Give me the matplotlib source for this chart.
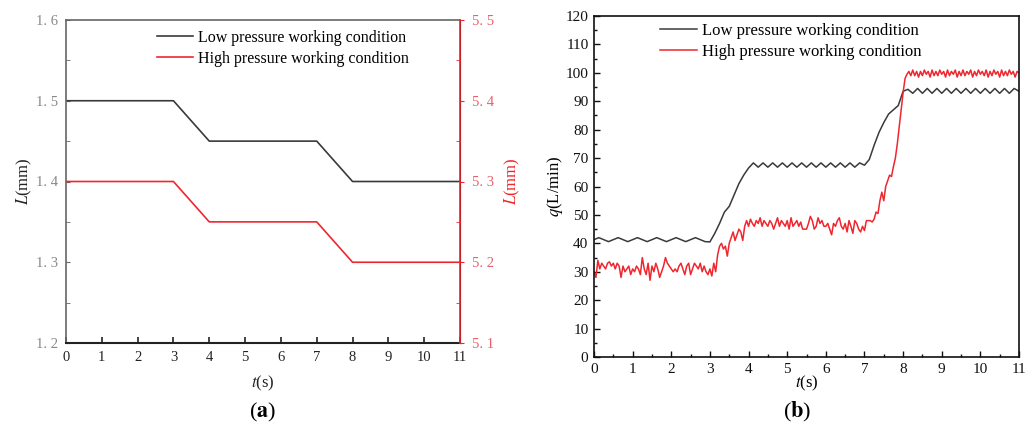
import numpy as np
import matplotlib
matplotlib.use('Agg')
import matplotlib.pyplot as plt
from matplotlib.ticker import MultipleLocator, FixedLocator, FixedFormatter

plt.rcParams['font.family'] = ['Liberation Serif', 'DejaVu Serif']
plt.rcParams['mathtext.fontset'] = 'stix'

# ---- panel (a): gap length vs time ----
a_t = [0, 3, 4, 7, 8, 11]
a_low = [1.50, 1.50, 1.45, 1.45, 1.40, 1.40]
a_high = [5.30, 5.30, 5.25, 5.25, 5.20, 5.20]
a_left_ticks = [1.2, 1.3, 1.4, 1.5, 1.6]
a_left_labels = ['1. 2', '1. 3', '1. 4', '1. 5', '1. 6']
a_right_ticks = [5.1, 5.2, 5.3, 5.4, 5.5]
a_right_labels = ['5. 1', '5. 2', '5. 3', '5. 4', '5. 5']
t_ticks = list(range(12))

# ---- panel (b): flow vs time ----
# low pressure, sampled every 0.125 s (8 values per second)
b_low = [
    41.3, 42.0, 41.3, 40.6, 41.3, 42.0, 41.3, 40.6,
    41.3, 42.0, 41.3, 40.6, 41.3, 42.0, 41.3, 40.6,
    41.3, 42.0, 41.3, 40.6, 41.3, 42.0, 41.3, 40.6,
    40.5, 43.5, 47.0, 51.0, 53.0, 57.0, 61.0, 64.0,
    66.5, 68.3, 66.8, 68.3, 66.8, 68.3, 66.8, 68.3,
    66.8, 68.3, 66.8, 68.3, 66.8, 68.3, 66.8, 68.3,
    66.8, 68.3, 66.8, 68.3, 66.8, 68.3, 66.8, 68.3,
    67.5, 69.5, 74.5, 79.0, 82.5, 85.5, 87.0, 88.5,
    93.5, 94.2, 92.8, 94.5, 92.8, 94.5, 92.8, 94.5,
    92.8, 94.5, 92.8, 94.5, 92.8, 94.5, 92.8, 94.5,
    92.8, 94.5, 92.8, 94.5, 92.8, 94.5, 92.8, 94.5,
    93.5,
]
# high pressure, sampled every 0.05 s (10 values per half second)
b_high = [
    30, 28, 34, 31, 33, 32, 31, 33, 33.5, 32,
    33, 31, 33, 32, 28, 32, 30, 31, 32, 29,
    31, 30, 32, 31, 29, 35, 31, 29, 33, 27,
    32, 30, 33, 31, 28, 30, 32, 35, 33, 32,
    31, 30, 31, 30, 32, 33, 31, 29, 32, 33,
    29, 31, 33, 32, 31, 33, 30, 32, 30, 29,
    31, 28.5, 33, 30, 36, 39, 40, 38, 39, 35.5,
    40, 42, 44, 41, 43, 45, 44, 41, 46, 48,
    46, 48.5, 47, 46, 48, 47, 49, 46, 48, 47,
    46, 48, 47, 45, 47, 49, 46, 48, 47, 46,
    48, 45, 49, 46, 47, 48, 46, 47.5, 45, 45,
    45, 47, 49.5, 48, 45, 46, 49, 47, 48, 46,
    46, 47, 45, 43, 47, 46, 48, 49, 46, 45,
    47, 44, 48, 46, 43.5, 48, 47, 45, 44, 46,
    44.5, 48, 48, 48, 47.5, 48.5, 51, 50.5, 55, 58,
    55, 60, 62, 64, 63.5, 67, 70, 75, 81, 87,
    93, 98, 99.5, 100.5, 99, 101, 99, 100.5, 98.5, 100.5,
    99, 101, 99.5, 100.5, 98.5, 101, 99, 100.5, 99, 101,
    99.5, 100.5, 98.5, 101, 99, 100.5, 99.5, 101, 98.5, 100.5,
    99, 101, 99, 100.5, 99.5, 101, 98.5, 100.5, 99, 101,
    99.5, 100.5, 99, 101, 98.5, 100.5, 99, 101, 99.5, 100.5,
    98.5, 101, 99, 100.5, 99, 101, 99.5, 100.5, 98.5, 100.5,
    100,
]
b_low_t = np.linspace(0, 11, len(b_low))
b_high_t = np.linspace(0, 11, len(b_high))

labels = ['Low pressure working condition', 'High pressure working condition']
c_low = '#3a3a3a'
c_high = '#f0262e'

fig = plt.figure(figsize=(10.32, 4.32), dpi=100)

# ---------------- (a) ----------------
ax = fig.add_axes([66/1032, 89/432, 394/1032, 323/432])
ax2 = ax.twinx()
l1, = ax.plot(a_t, a_low, color=c_low, lw=1.2)
l2, = ax2.plot(a_t, a_high, color=c_high, lw=1.2)
ax.set_xlim(0, 11)
ax.set_ylim(1.2, 1.6)
ax2.set_ylim(5.1, 5.5)
ax.xaxis.set_major_locator(FixedLocator(t_ticks))
ax.yaxis.set_major_locator(FixedLocator(a_left_ticks))
ax.yaxis.set_major_formatter(FixedFormatter(a_left_labels))
ax.yaxis.set_minor_locator(MultipleLocator(0.05))
ax2.yaxis.set_major_locator(FixedLocator(a_right_ticks))
ax2.yaxis.set_major_formatter(FixedFormatter(a_right_labels))
ax2.yaxis.set_minor_locator(MultipleLocator(0.05))
ax.tick_params(axis='x', direction='in', length=4, width=1.2, colors='#222222',
               labelsize=10.5, pad=6)
ax.tick_params(axis='y', which='both', direction='in', length=3, colors='#666666',
               labelcolor='#888888', labelsize=10.5, pad=6)
ax2.tick_params(axis='y', which='major', direction='out', length=3, colors=c_high,
                labelcolor='#e8606a', labelsize=10.5, pad=6)
ax2.tick_params(axis='y', which='minor', direction='in', length=3, colors=c_high)
for s in ['left', 'top']:
    ax.spines[s].set_color('#666666')
    ax.spines[s].set_linewidth(1.2)
ax.spines['bottom'].set_color('#222222')
ax.spines['bottom'].set_linewidth(1.5)
ax2.spines['right'].set_color(c_high)
ax2.spines['right'].set_linewidth(1.2)
ax2.spines['left'].set_visible(False)
ax2.spines['top'].set_visible(False)
ax2.spines['bottom'].set_visible(False)
ax.set_xlabel(r'$\mathit{t}$(s)', fontsize=12, labelpad=6.5, color='#222222')
ax.set_ylabel(r'$\mathit{L}$(mm)', fontsize=12, labelpad=1, color='#222222')
ax2.set_ylabel(r'$\mathit{L}$(mm)', fontsize=12, labelpad=6, color=c_high)
fig.legend([l1, l2], labels, loc='upper left',
           bbox_to_anchor=(157/1032, 1 - 30/432), frameon=False,
           fontsize=11.5, handlelength=2.25, handletextpad=0.3,
           labelspacing=0.3, borderpad=0, borderaxespad=0)

# ---------------- (b) ----------------
bx = fig.add_axes([594/1032, 75/432, 425/1032, 341/432])
m1, = bx.plot(b_low_t, b_low, color=c_low, lw=1.1)
m2, = bx.plot(b_high_t, b_high, color=c_high, lw=1.1)
bx.set_xlim(0, 11)
bx.set_ylim(0, 120)
bx.xaxis.set_major_locator(FixedLocator(t_ticks))
bx.xaxis.set_minor_locator(MultipleLocator(0.5))
bx.yaxis.set_major_locator(MultipleLocator(10))
bx.yaxis.set_minor_locator(MultipleLocator(5))
bx.tick_params(which='major', direction='in', length=4, width=1, colors='#111111',
               labelsize=11, pad=4)
bx.tick_params(which='minor', direction='in', length=2.5, width=1, colors='#111111')
for s in bx.spines.values():
    s.set_linewidth(1.2)
    s.set_color('#111111')
bx.set_xlabel(r'$\mathit{t}$(s)', fontsize=12, labelpad=-1)
bx.set_ylabel(r'$\mathit{q}$(L/min)', fontsize=12, labelpad=0.5)
fig.legend([m1, m2], labels, loc='upper left',
           bbox_to_anchor=(660/1032, 1 - 23/432), frameon=False,
           fontsize=12, handlelength=2.2, handletextpad=0.3,
           labelspacing=0.3, borderpad=0, borderaxespad=0)

# captions
fig.text(263/1032, 1 - 412/432, r'($\mathbf{a}$)', ha='center', va='center', fontsize=16)
fig.text(797/1032, 1 - 412/432, r'($\mathbf{b}$)', ha='center', va='center', fontsize=16)

fig.savefig('out.png', dpi=100)
